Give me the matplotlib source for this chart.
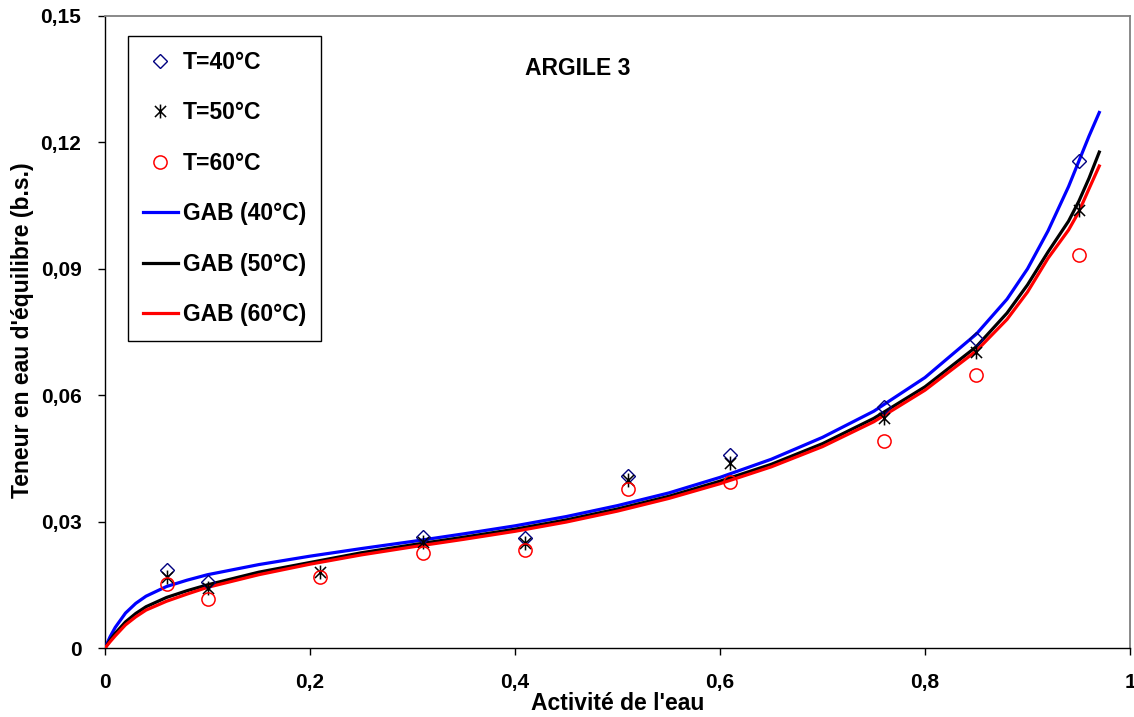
import matplotlib
matplotlib.use("Agg")
import matplotlib.pyplot as plt
from matplotlib.path import Path

plt.rcParams['font.family'] = ['Liberation Sans', 'DejaVu Sans']
plt.rcParams['font.weight'] = 'bold'

#------------------------------ Donnees --------------------------------------#
aw_exp = [0.06, 0.10, 0.21, 0.31, 0.41, 0.51, 0.61, 0.76, 0.85, 0.95]
x_40 = [0.0184, 0.0157, None, 0.0264, 0.0262, 0.0409, 0.0458, 0.0571, 0.0733, 0.1156]
x_50 = [0.0168, 0.0142, 0.0180, 0.0252, 0.0249, 0.0399, 0.0438, 0.0545, 0.0703, 0.1040]
x_60 = [0.0152, 0.0116, 0.0168, 0.0225, 0.0233, 0.0377, 0.0395, 0.0492, 0.0648, 0.0933]

aw_gab = [0, 0.005, 0.01, 0.02, 0.03, 0.04, 0.06, 0.08, 0.10, 0.15, 0.20, 0.25, 0.30,
          0.35, 0.40, 0.45, 0.50, 0.55, 0.60, 0.65, 0.70, 0.75, 0.80, 0.85,
          0.88, 0.90, 0.92, 0.94, 0.95, 0.96, 0.97]
gab_40 = [0, 0.0027, 0.0049, 0.0083, 0.0106, 0.0123, 0.0146, 0.0161, 0.0174, 0.0198,
          0.0218, 0.0236, 0.0253, 0.0271, 0.0290, 0.0312, 0.0338, 0.0368,
          0.0405, 0.0448, 0.0500, 0.0562, 0.0642, 0.0745, 0.0828, 0.0900,
          0.0990, 0.1095, 0.1155, 0.1215, 0.1271]
gab_50 = [0, 0.0019, 0.0035, 0.0062, 0.0082, 0.0098, 0.0120, 0.0136, 0.0150, 0.0180,
          0.0203, 0.0226, 0.0245, 0.0263, 0.0282, 0.0304, 0.0330, 0.0360,
          0.0396, 0.0436, 0.0485, 0.0545, 0.0620, 0.0715, 0.0795, 0.0862,
          0.0940, 0.1013, 0.1060, 0.1115, 0.1177]
gab_60 = [0, 0.0015, 0.0029, 0.0055, 0.0074, 0.0090, 0.0111, 0.0128, 0.0144, 0.0174,
          0.0199, 0.0221, 0.0240, 0.0258, 0.0277, 0.0299, 0.0325, 0.0355,
          0.0390, 0.0430, 0.0478, 0.0537, 0.0612, 0.0705, 0.0780, 0.0845,
          0.0925, 0.0992, 0.1035, 0.1090, 0.1144]

xticks = [0, 0.2, 0.4, 0.6, 0.8, 1.0]
xticklabels = ['0', '0,2', '0,4', '0,6', '0,8', '1']
yticks = [0, 0.03, 0.06, 0.09, 0.12, 0.15]
yticklabels = ['0', '0,03', '0,06', '0,09', '0,12', '0,15']

#------------------------------ Figure --------------------------------------#
# marqueur "etoile" style Excel : un x plus une barre verticale
star = Path([(-1, -1), (1, 1), (-1, 1), (1, -1), (0, -1.25), (0, 1.25)],
            [Path.MOVETO, Path.LINETO, Path.MOVETO, Path.LINETO,
             Path.MOVETO, Path.LINETO])

fig = plt.figure(figsize=(11.34, 7.17), dpi=100)
ax = fig.add_axes([0.0926, 0.0962, 0.9039, 0.8815])

def pts(xs, ys):
    xx = [a for a, b in zip(xs, ys) if b is not None]
    yy = [b for b in ys if b is not None]
    return xx, yy

xa, ya = pts(aw_exp, x_40)
ax.plot(xa, ya, ls='none', marker='D', ms=7, mfc='none', mec='#000080',
        mew=1.0, label='T=40°C', zorder=5)
xa, ya = pts(aw_exp, x_50)
ax.plot(xa, ya, ls='none', marker=star, ms=10, mfc='none', mec='black',
        mew=1.1, label='T=50°C', zorder=5)
xa, ya = pts(aw_exp, x_60)
ax.plot(xa, ya, ls='none', marker='o', ms=9.5, mfc='none', mec='#FF0000',
        mew=1.1, label='T=60°C', zorder=5)

ax.plot(aw_gab, gab_40, color='#0000FF', lw=2.3, label='GAB (40°C)', zorder=3)
ax.plot(aw_gab, gab_50, color='black', lw=2.3, label='GAB (50°C)', zorder=3)
ax.plot(aw_gab, gab_60, color='#FF0000', lw=2.3, label='GAB (60°C)', zorder=3)

ax.set_xlim(0, 1)
ax.set_ylim(0, 0.15)
ax.set_xticks(xticks)
ax.set_xticklabels(xticklabels)
ax.set_yticks(yticks)
ax.set_yticklabels(yticklabels)
ax.tick_params(axis='both', direction='out', length=5, width=1, labelsize=15)
ax.tick_params(axis='x', pad=13)
ax.tick_params(axis='y', pad=12)

for s in ['left', 'bottom']:
    ax.spines[s].set_color('black')
    ax.spines[s].set_linewidth(1.0)
for s in ['top', 'right']:
    ax.spines[s].set_color('#808080')
    ax.spines[s].set_linewidth(1.3)

ax.set_xlabel("Activité de l'eau", fontsize=16.5, fontweight='bold', va='top')
ax.xaxis.set_label_coords(0.5, -0.069)
ax.set_ylabel("Teneur en eau d'équilibre (b.s.)", fontsize=16.5, fontweight='bold')
ax.yaxis.set_label_coords(-0.069, 0.503)

ax.text(0.461, 0.917, 'ARGILE 3', transform=ax.transAxes, fontsize=16.5,
        fontweight='bold', ha='center', va='center')

leg = ax.legend(loc='upper left', bbox_to_anchor=(128 / 1134, 1 - 36 / 717),
                bbox_transform=fig.transFigure, fontsize=16.5, frameon=True,
                fancybox=False, handlelength=1.53, handletextpad=0.2,
                labelspacing=1.2, borderpad=0.65, borderaxespad=0,
                markerscale=1.0)
leg.get_frame().set_edgecolor('black')
leg.get_frame().set_linewidth(1.0)
leg.get_frame().set_alpha(1)

fig.savefig('out.png', dpi=100)
plt.close()
